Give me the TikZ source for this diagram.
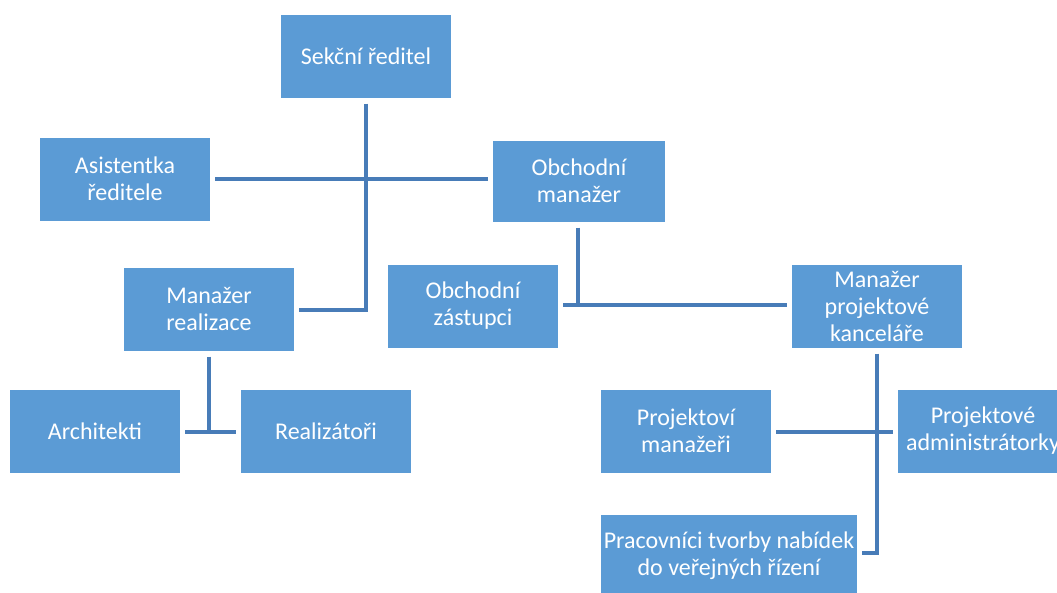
\documentclass[tikz,border=0pt]{standalone}
\usepackage{fontspec}
\setmainfont{Carlito}
\usetikzlibrary{calc}
\definecolor{boxblue}{RGB}{91,155,213}
\definecolor{lineblue}{RGB}{72,124,184}

\begin{document}
\begin{tikzpicture}[x=1pt,y=1pt,node distance=125pt]
        \tikzstyle {funkce} = [rectangle, minimum width=170pt, minimum height=83pt, inner sep=0pt, align=center, text=white, font=\fontsize{24}{27}\selectfont, fill=boxblue]
        \tikzstyle {vedeni} = [draw=lineblue, line width=4pt]
        \useasboundingbox (0,0) rectangle (1057,-592);
        % Vedení
        \node (reditel) at (366,-56) [funkce]{Sekční ředitel};
        \node (asistentka) [funkce, below of=reditel, xshift=-241pt, yshift=2pt]{Asistentka\\ředitele};
        \node (obchod) [funkce, below of=reditel, xshift=213pt, minimum width=172pt, minimum height=81pt]{Obchodní\\manažer};
        \draw[vedeni] ([xshift=5pt]asistentka.east) -- ([xshift=-5pt]asistentka.east -| obchod.west);
        % Realizace
        \node (realizace) [funkce, below of=asistentka, xshift=84pt, yshift=-5pt]{Manažer\\realizace};
        \draw[vedeni] ([yshift=-6pt]reditel.south) |- ([xshift=5pt,yshift=-1pt]realizace.east);
        \node (architekti) [funkce, below of=realizace, xshift=-114pt, yshift=3pt]{Architekti};
        \node (realizatori) [funkce, below of=realizace, xshift=117pt, yshift=3pt]{Realizátoři};
        \draw[vedeni] ([yshift=-6pt]realizace.south) -- ([yshift=-1pt]realizace.south |- architekti.east);
        \draw[vedeni] ([xshift=5pt,yshift=-1pt]architekti.east) -- ([xshift=-5pt,yshift=-1pt]realizatori.west);
        % Obchod
        \node (zastupci) [funkce, below of=obchod, xshift=-106pt]{Obchodní\\zástupci};
        \node (kancelar) [funkce, below of=obchod, xshift=298pt]{Manažer\\projektové\\kanceláře};
        \draw[vedeni] ([xshift=-1pt,yshift=-6pt]obchod.south) -- ([xshift=-1pt,yshift=1pt]obchod.south |- zastupci.east);
        \draw[vedeni] ([xshift=5pt,yshift=1pt]zastupci.east) -- ([xshift=-5pt,yshift=1pt]kancelar.west);
        % Projektová kancelář
        \node (projman) [funkce, below of=kancelar, xshift=-191pt]{Projektoví\\manažeři};
        \node (admin) [funkce, below of=kancelar, xshift=106pt]{Projektové\\administrátorky};
        \node (nabidky) [funkce, below of=projman, xshift=43pt, minimum width=256pt]{Pracovníci tvorby nabídek\\do veřejných řízení};
        \draw[vedeni] ([yshift=-6pt]kancelar.south) |- ([xshift=5pt,yshift=3pt]nabidky.east);
        \draw[vedeni] ([xshift=5pt,yshift=-1pt]projman.east) -- ([xshift=-5pt,yshift=-1pt]admin.west);
    \end{tikzpicture}
\end{document}
